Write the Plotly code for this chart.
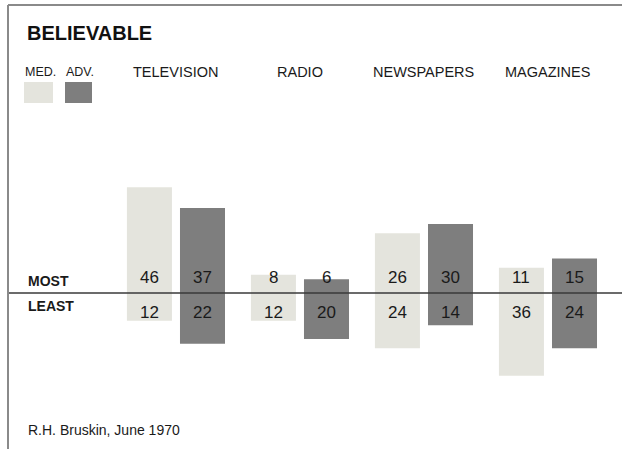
import plotly.graph_objects as go

media = ["TELEVISION", "RADIO", "NEWSPAPERS", "MAGAZINES"]
med_most = [46, 8, 26, 11]
med_least = [12, 12, 24, 36]
adv_most = [37, 6, 30, 15]
adv_least = [22, 20, 14, 24]

W, H = 622, 449
MED_COLOR = "#e4e4dd"
ADV_COLOR = "#7e7e7e"
FONT = "Liberation Sans, Arial, sans-serif"
BAR_W = 0.363
SHIFT = 0.214

x = list(range(len(media)))

fig = go.Figure()
fig.add_trace(go.Bar(
    x=x, y=[m + l for m, l in zip(med_most, med_least)], base=[-l for l in med_least],
    width=BAR_W, offset=-SHIFT - BAR_W / 2, marker=dict(color=MED_COLOR, line=dict(width=0)),
    name="MED.", showlegend=False, hoverinfo="skip"))
fig.add_trace(go.Bar(
    x=x, y=[m + l for m, l in zip(adv_most, adv_least)], base=[-l for l in adv_least],
    width=BAR_W, offset=SHIFT - BAR_W / 2, marker=dict(color=ADV_COLOR, line=dict(width=0)),
    name="ADV.", showlegend=False, hoverinfo="skip"))

ann = []
for i in x:
    for off, most, least in ((-SHIFT, med_most[i], med_least[i]), (SHIFT, adv_most[i], adv_least[i])):
        ann.append(dict(x=i + off, y=0, xref="x", yref="y", text=str(most), showarrow=False,
                        yanchor="middle", yshift=16, font=dict(family=FONT, size=17, color="#1a1a1a")))
        ann.append(dict(x=i + off, y=0, xref="x", yref="y", text=str(least), showarrow=False,
                        yanchor="middle", yshift=-19, font=dict(family=FONT, size=17, color="#1a1a1a")))
    ann.append(dict(x=i, y=1 - 72 / H, xref="x", yref="paper", text=media[i], showarrow=False,
                    xanchor="center", yanchor="middle", font=dict(family=FONT, size=14.5, color="#1a1a1a")))

def px(v):
    return v / W

def py(v):
    return 1 - v / H

ann += [
    dict(x=px(25), y=py(33), xref="paper", yref="paper", text="<b>BELIEVABLE</b>", showarrow=False,
         xanchor="left", yanchor="middle", font=dict(family=FONT, size=20, color="#111")),
    dict(x=px(23), y=py(72), xref="paper", yref="paper", text="MED.", showarrow=False,
         xanchor="left", yanchor="middle", font=dict(family=FONT, size=12.5, color="#1a1a1a")),
    dict(x=px(64), y=py(72), xref="paper", yref="paper", text="ADV.", showarrow=False,
         xanchor="left", yanchor="middle", font=dict(family=FONT, size=12.5, color="#1a1a1a")),
    dict(x=px(26), y=0, xref="paper", yref="y", text="<b>MOST</b>", showarrow=False,
         xanchor="left", yanchor="middle", yshift=12, font=dict(family=FONT, size=14, color="#1a1a1a")),
    dict(x=px(26), y=0, xref="paper", yref="y", text="<b>LEAST</b>", showarrow=False,
         xanchor="left", yanchor="middle", yshift=-13, font=dict(family=FONT, size=14, color="#1a1a1a")),
    dict(x=px(26), y=py(430), xref="paper", yref="paper", text="R.H. Bruskin, June 1970", showarrow=False,
         xanchor="left", yanchor="middle", font=dict(family=FONT, size=14, color="#1a1a1a")),
]

shapes = [
    dict(type="rect", xref="paper", yref="paper", x0=px(24), x1=px(53), y0=py(103), y1=py(82),
         fillcolor=MED_COLOR, line=dict(width=0)),
    dict(type="rect", xref="paper", yref="paper", x0=px(65), x1=px(92), y0=py(103), y1=py(82),
         fillcolor=ADV_COLOR, line=dict(width=0)),
    dict(type="line", xref="paper", yref="y", x0=px(8), x1=1, y0=0, y1=0,
         line=dict(color="#3a3a3a", width=1.5), layer="above"),
    dict(type="line", xref="paper", yref="paper", x0=px(8), x1=1, y0=py(5), y1=py(5),
         line=dict(color="#8a8a8a", width=2)),
    dict(type="line", xref="paper", yref="paper", x0=px(8), x1=px(8), y0=py(5), y1=0,
         line=dict(color="#8a8a8a", width=2)),
]

fig.update_layout(
    width=W, height=H, margin=dict(l=0, r=0, t=0, b=0),
    paper_bgcolor="white", plot_bgcolor="white", barmode="overlay",
    xaxis=dict(range=[-1.419, 3.597], visible=False, fixedrange=True),
    yaxis=dict(range=[-67.8, 127.4], visible=False, fixedrange=True),
    annotations=ann, shapes=shapes,
)

fig.write_html("out.html", config={"displayModeBar": False},
               post_script="document.body.style.margin='0';document.body.style.overflow='hidden';")
